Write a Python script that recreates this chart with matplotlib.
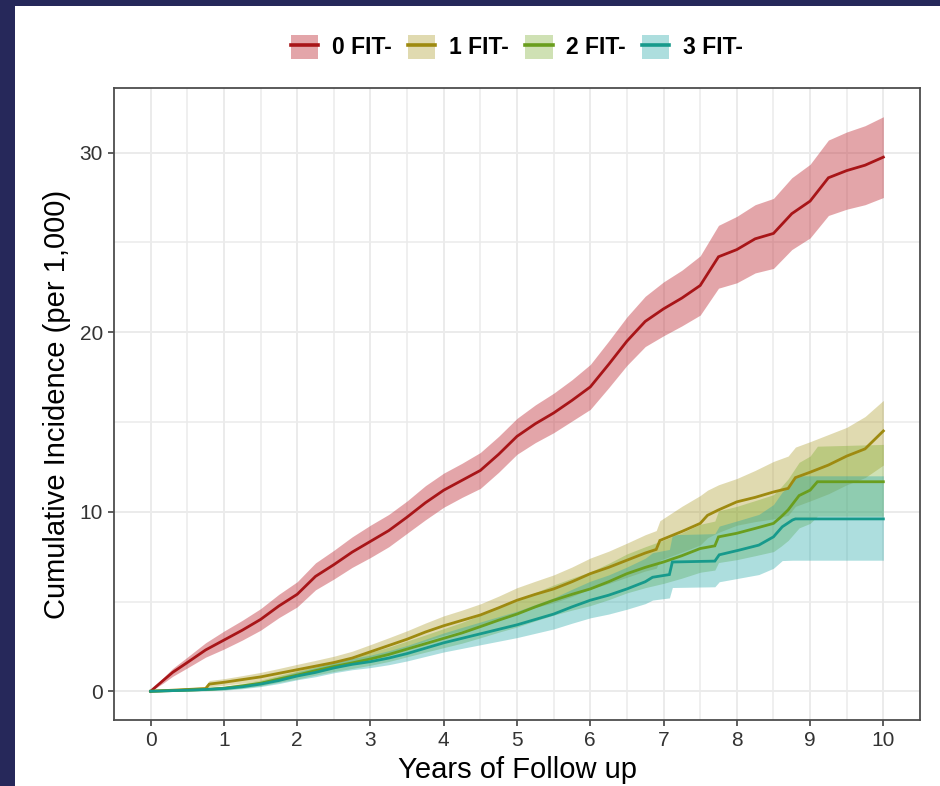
import matplotlib
matplotlib.use('Agg')
import matplotlib.pyplot as plt
from matplotlib.patches import Patch, Rectangle
from matplotlib.lines import Line2D

plt.rcParams['font.family'] = ['Liberation Sans', 'DejaVu Sans']

# values (cumulative incidence per 1,000)
labels = ['0 FIT-', '1 FIT-', '2 FIT-', '3 FIT-']

t0 = [0, 0.17, 0.3, 0.5, 0.75, 1.0, 1.25, 1.5, 1.75, 2.0, 2.25, 2.5, 2.75, 3.0, 3.25, 3.5, 3.75, 4.0,
      4.25, 4.5, 4.75, 5.0, 5.25, 5.5, 5.75, 6.0, 6.25, 6.5, 6.75, 7.0, 7.25, 7.5, 7.75, 8.0, 8.25,
      8.5, 8.75, 9.0, 9.25, 9.5, 9.75, 10.0]
est0 = [0, 0.6, 1.05, 1.6, 2.3, 2.85, 3.4, 4.0, 4.75, 5.4, 6.4, 7.05, 7.75, 8.35, 8.95, 9.7, 10.5, 11.2,
        11.75, 12.3, 13.2, 14.2, 14.9, 15.5, 16.2, 16.95, 18.2, 19.5, 20.6, 21.3, 21.9, 22.6, 24.2, 24.6,
        25.2, 25.5, 26.6, 27.3, 28.6, 29.0, 29.3, 29.75]
lo0 = [0, 0.45, 0.83, 1.3, 1.9, 2.35, 2.85, 3.4, 4.1, 4.7, 5.65, 6.25, 6.9, 7.45, 8.05, 8.8, 9.55, 10.25,
       10.8, 11.3, 12.2, 13.2, 13.85, 14.4, 15.05, 15.7, 16.9, 18.15, 19.2, 19.8, 20.35, 20.95, 22.45, 22.75,
       23.3, 23.55, 24.6, 25.25, 26.5, 26.85, 27.1, 27.5]
hi0 = [0, 0.75, 1.27, 1.9, 2.7, 3.35, 3.95, 4.6, 5.4, 6.1, 7.15, 7.85, 8.6, 9.25, 9.85, 10.6, 11.45, 12.15,
       12.7, 13.3, 14.2, 15.2, 15.95, 16.6, 17.35, 18.2, 19.5, 20.85, 22.0, 22.8, 23.45, 24.25, 25.95, 26.45,
       27.1, 27.45, 28.6, 29.35, 30.7, 31.15, 31.5, 32.0]

t1 = [0, 0.25, 0.5, 0.75, 0.8, 1.0, 1.25, 1.5, 1.75, 2.0, 2.25, 2.5, 2.75, 3.0, 3.25, 3.5, 3.75, 4.0,
      4.25, 4.5, 4.75, 5.0, 5.25, 5.5, 5.75, 6.0, 6.25, 6.5, 6.75, 6.9, 6.95, 7.25, 7.5, 7.6, 7.75, 8.0,
      8.25, 8.5, 8.7, 8.8, 9.0, 9.25, 9.5, 9.75, 10.0]
est1 = [0, 0.05, 0.1, 0.15, 0.4, 0.5, 0.65, 0.8, 1.0, 1.2, 1.4, 1.6, 1.85, 2.2, 2.55, 2.9, 3.3, 3.65,
        3.95, 4.25, 4.65, 5.07, 5.4, 5.7, 6.1, 6.55, 6.9, 7.3, 7.7, 7.9, 8.4, 8.9, 9.35, 9.8, 10.1, 10.55,
        10.8, 11.1, 11.3, 11.9, 12.2, 12.6, 13.1, 13.5, 14.5]
lo1 = [0, 0.0, 0.02, 0.05, 0.25, 0.33, 0.45, 0.58, 0.75, 0.93, 1.1, 1.27, 1.5, 1.8, 2.12, 2.45, 2.8, 3.12,
       3.38, 3.65, 4.0, 4.37, 4.67, 4.93, 5.28, 5.7, 6.0, 6.35, 6.7, 6.85, 7.3, 7.75, 8.15, 8.55, 8.85, 9.25,
       9.45, 9.6, 9.8, 10.3, 10.6, 11.0, 11.5, 11.9, 12.6]
hi1 = [0, 0.1, 0.18, 0.27, 0.6, 0.7, 0.87, 1.05, 1.27, 1.5, 1.72, 1.95, 2.23, 2.6, 2.98, 3.37, 3.8, 4.2,
       4.52, 4.87, 5.3, 5.77, 6.13, 6.48, 6.92, 7.42, 7.8, 8.25, 8.72, 8.95, 9.5, 10.3, 10.9, 11.2, 11.5, 11.85,
       12.3, 12.8, 13.1, 13.6, 13.9, 14.3, 14.7, 15.3, 16.2]

t2 = [0, 0.25, 0.5, 0.75, 1.0, 1.25, 1.5, 1.75, 2.0, 2.25, 2.5, 2.75, 3.0, 3.25, 3.5, 3.75, 4.0, 4.25,
      4.5, 4.75, 5.0, 5.25, 5.5, 5.75, 6.0, 6.25, 6.5, 6.75, 7.0, 7.25, 7.5, 7.7, 7.75, 8.0, 8.25, 8.5,
      8.6, 8.7, 8.85, 9.0, 9.1, 10.0]
est2 = [0, 0.03, 0.07, 0.1, 0.17, 0.3, 0.45, 0.68, 0.9, 1.15, 1.38, 1.58, 1.8, 2.05, 2.35, 2.65, 2.95, 3.25,
        3.6, 3.96, 4.3, 4.7, 5.07, 5.4, 5.7, 6.1, 6.55, 6.9, 7.2, 7.55, 7.95, 8.1, 8.6, 8.8, 9.07, 9.35,
        9.7, 10.1, 10.9, 11.2, 11.67, 11.67]
lo2 = [0, 0.0, 0.02, 0.04, 0.08, 0.18, 0.3, 0.5, 0.68, 0.9, 1.1, 1.27, 1.45, 1.66, 1.92, 2.18, 2.43, 2.68,
       2.98, 3.29, 3.58, 3.92, 4.24, 4.52, 4.77, 5.1, 5.48, 5.77, 6.01, 6.3, 6.63, 6.75, 7.17, 7.33, 7.55, 7.78,
       8.07, 8.4, 9.1, 9.35, 9.75, 9.75]
hi2 = [0, 0.07, 0.13, 0.18, 0.28, 0.44, 0.62, 0.88, 1.13, 1.42, 1.68, 1.9, 2.17, 2.46, 2.8, 3.14, 3.49, 3.84,
       4.24, 4.65, 5.04, 5.5, 5.92, 6.3, 6.65, 7.12, 7.65, 8.05, 8.42, 8.83, 9.3, 9.48, 10.05, 10.3, 10.62, 10.95,
       11.36, 11.83, 12.75, 13.1, 13.65, 13.75]

t3 = [0, 0.25, 0.5, 0.75, 1.0, 1.25, 1.5, 1.75, 2.0, 2.25, 2.5, 2.75, 3.0, 3.25, 3.5, 3.75, 4.0, 4.25,
      4.5, 4.75, 5.0, 5.25, 5.5, 5.75, 6.0, 6.25, 6.5, 6.75, 6.85, 7.08, 7.12, 7.7, 7.76, 8.03, 8.3, 8.5,
      8.62, 8.76, 8.8, 10.0]
est3 = [0, 0.03, 0.06, 0.1, 0.15, 0.25, 0.4, 0.6, 0.85, 1.05, 1.3, 1.5, 1.65, 1.85, 2.1, 2.4, 2.7, 2.95,
        3.2, 3.45, 3.7, 4.0, 4.3, 4.7, 5.07, 5.35, 5.7, 6.1, 6.35, 6.5, 7.2, 7.25, 7.6, 7.86, 8.14, 8.6,
        9.16, 9.54, 9.6, 9.6]
lo3 = [0, 0.0, 0.01, 0.03, 0.06, 0.14, 0.26, 0.43, 0.64, 0.81, 1.03, 1.2, 1.32, 1.48, 1.69, 1.94, 2.19, 2.39,
       2.59, 2.79, 2.99, 3.23, 3.47, 3.79, 4.09, 4.3, 4.57, 4.88, 5.08, 5.2, 5.78, 5.82, 6.1, 6.3, 6.5, 6.85,
       7.28, 7.3, 7.3, 7.3]
hi3 = [0, 0.07, 0.12, 0.18, 0.26, 0.38, 0.56, 0.8, 1.08, 1.32, 1.6, 1.83, 2.01, 2.26, 2.55, 2.9, 3.25, 3.56,
       3.86, 4.16, 4.46, 4.83, 5.2, 5.68, 6.13, 6.48, 6.92, 7.41, 7.72, 7.9, 8.72, 8.78, 9.2, 9.52, 9.85, 10.4,
       11.1, 11.6, 12.0, 12.0]

line_colors = ['#A81518', '#9E8A10', '#6A9E1E', '#179A8C']
fill_colors = ['#BE2A34', '#A8961E', '#78AA28', '#28AAAA']
fill_alpha = [0.42, 0.35, 0.35, 0.38]

x_ticks = list(range(0, 11))
y_ticks = [0, 10, 20, 30]

series = [(t0, est0, lo0, hi0), (t1, est1, lo1, hi1), (t2, est2, lo2, hi2), (t3, est3, lo3, hi3)]

fig = plt.figure(figsize=(9.4, 7.86), dpi=100)
fig.add_artist(Rectangle((0, 0), 15 / 940, 1, transform=fig.transFigure, color='#26285A', lw=0))
fig.add_artist(Rectangle((0, 1 - 6 / 786), 1, 6 / 786, transform=fig.transFigure, color='#26285A', lw=0))

ax = fig.add_axes([114 / 940, 66 / 786, 806 / 940, 632 / 786])

for (t, est, lo, hi), fc, a in zip(series, fill_colors, fill_alpha):
    ax.fill_between(t, lo, hi, color=fc, alpha=a, lw=0, zorder=2)
for (t, est, lo, hi), lc in zip(series, line_colors):
    ax.plot(t, est, color=lc, lw=2.0, zorder=3, solid_joinstyle='miter')

ax.set_xlim(-0.5, 10.5)
ax.set_ylim(-1.6, 33.6)
ax.set_xticks(x_ticks)
ax.set_yticks(y_ticks)
ax.set_xticks([x + 0.5 for x in range(0, 10)], minor=True)
ax.set_yticks([5, 15, 25], minor=True)
ax.grid(which='major', color='#EBEBEB', lw=1.4, zorder=0)
ax.grid(which='minor', color='#EBEBEB', lw=1.1, zorder=0)
ax.set_axisbelow(True)
ax.tick_params(which='major', direction='out', length=4, width=1.1, color='#333333',
               labelsize=15, labelcolor='#333333', pad=4)
ax.tick_params(which='minor', length=0)
for s in ax.spines.values():
    s.set_color('#4D4D4D')
    s.set_linewidth(1.3)

ax.set_xlabel('Years of Follow up', fontsize=21, labelpad=4)
ax.set_ylabel('Cumulative Incidence (per 1,000)', fontsize=21, labelpad=6)

handles = [(Patch(facecolor=fc, alpha=a, lw=0), Line2D([], [], color=lc, lw=2.6))
           for fc, a, lc in zip(fill_colors, fill_alpha, line_colors)]
fig.legend(handles, labels, loc='center', bbox_to_anchor=(517 / 940, 1 - 47 / 786), ncol=4,
           frameon=False, prop={'weight': 'bold', 'size': 16.5}, handlelength=1.2, handleheight=1.25,
           handletextpad=0.6, columnspacing=0.7)

fig.savefig('out.png', dpi=100)
